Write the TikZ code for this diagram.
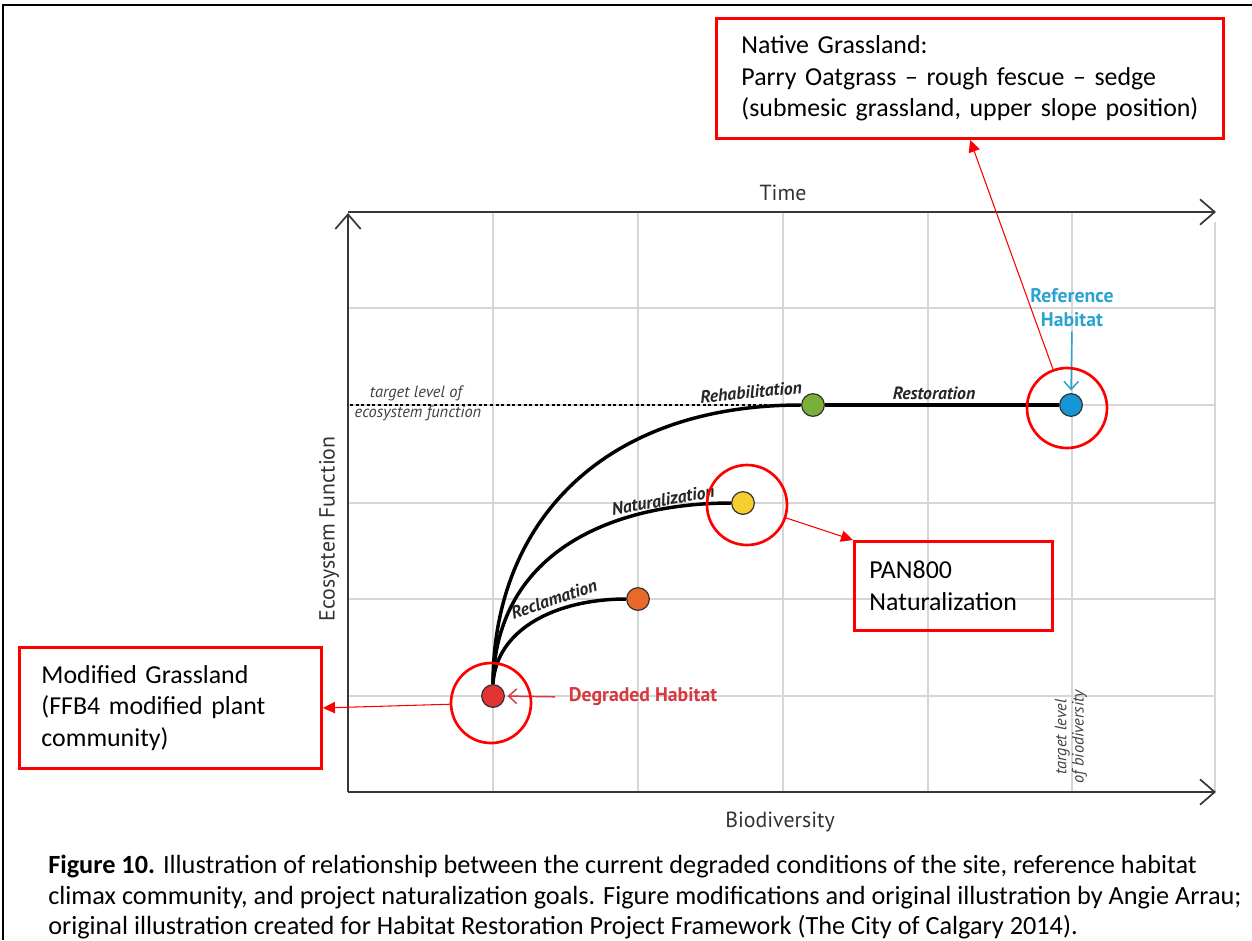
\documentclass[tikz,border=0pt]{standalone}
\usepackage{fontspec}
\setmainfont{Carlito}
\newfontfamily\chartfont{PT Sans}
\usetikzlibrary{arrows.meta}

\definecolor{boxred}{RGB}{255,0,0}
\definecolor{gridgray}{RGB}{214,214,214}
\definecolor{axisgray}{RGB}{55,55,55}
\definecolor{degred}{RGB}{214,57,63}
\definecolor{refblue}{RGB}{42,163,207}
\definecolor{dotred}{RGB}{226,50,50}
\definecolor{dotorange}{RGB}{232,105,44}
\definecolor{dotyellow}{RGB}{247,206,48}
\definecolor{dotgreen}{RGB}{122,176,58}
\definecolor{dotblue}{RGB}{22,150,214}

\begin{document}
\begin{tikzpicture}[x=0.75pt,y=0.75pt,yscale=-1,xscale=1,
  redbox/.style={draw=boxred,line width=2.2pt,anchor=north west,align=left,inner ysep=0pt,
    font=\fontsize{19.4}{23.7}\selectfont},
  ring/.style={draw=boxred,line width=2pt,circle,minimum size=60pt,inner sep=0pt},
  dot/.style={circle,draw=black!80,line width=0.9pt,minimum size=17pt,inner sep=0pt},
  callout/.style={draw=boxred,line width=0.8pt,-{Triangle[length=9pt,width=8.5pt]}},
  gridline/.style={draw=gridgray,line width=1.1pt},
  axisline/.style={draw=axisgray,line width=1.6pt,-{Straight Barb[length=11pt,width=19pt,line width=1.3pt]}},
  trend/.style={draw=black,line width=2.6pt},
  stage/.style={font=\chartfont\bfseries\itshape\fontsize{13.3}{15}\selectfont,text=black!85,inner sep=1pt},
  axislabel/.style={font=\chartfont\fontsize{16.4}{18}\selectfont,text=black!80,inner sep=0pt},
  target/.style={font=\chartfont\itshape\fontsize{12.3}{13}\selectfont,text=black!75,inner sep=0pt,align=center},
  habitat/.style={font=\chartfont\bfseries\fontsize{14.8}{18}\selectfont,inner sep=1pt,align=center}
]
\useasboundingbox (0,0) rectangle (1252,940);

% page frame
\draw [line width=1.6pt] (3,940) -- (3,5) -- (1252,5);

% grid
\draw [gridline] (493,212) -- (493,792);
\draw [gridline] (638,212) -- (638,792);
\draw [gridline] (783,212) -- (783,792);
\draw [gridline] (928,212) -- (928,792);
\draw [gridline] (1072,212) -- (1072,792);
\draw [gridline] (1215,222) -- (1215,792);
\draw [gridline] (348,308) -- (1215,308);
\draw [gridline] (348,405) -- (1215,405);
\draw [gridline] (348,503) -- (1215,503);
\draw [gridline] (348,599) -- (1215,599);
\draw [gridline] (348,696) -- (1215,696);

% axes
\draw [axisline] (348,792) -- (348,213);
\draw [axisline] (348,212) -- (1216,212);
\draw [axisline] (348,792) -- (1216,792);

% target level of ecosystem function
\draw [dash pattern=on 2.2pt off 2pt,line width=0.8pt] (350,405) -- (790,405);
\node [target] (tgtA) at (416,393) {target level of};
\node [target] (tgtB) at (418,413) {ecosystem function};
\node [target,rotate=90] (tgtBio) at (1071,737) {target level\\of biodiversity};

% axis labels
\node [axislabel] (time) at (783,193) {Time};
\node [axislabel] (bio) at (780,822) {Biodiversity};
\node [axislabel,rotate=90] (eco) at (329,529) {Ecosystem Function};

% habitat dots
\node [dot,fill=dotred] (degr) at (493,696) {};
\node [dot,fill=dotorange] (recl) at (638,599) {};
\node [dot,fill=dotyellow] (natu) at (743,503) {};
\node [dot,fill=dotgreen] (rehab) at (813,405) {};
\node [dot,fill=dotblue] (refer) at (1071,405) {};

% trajectories
\draw [trend] (degr.north) .. controls +(0,-160) and +(-200,0) .. (rehab.west);
\draw [trend] (degr.north) .. controls +(3,-135) and +(-115,0) .. (natu.west);
\draw [trend] (degr.north) .. controls +(3,-55) and +(-70,0) .. (recl.west);
\draw [trend] (rehab.east) -- (refer.west);

% trajectory labels
\node [stage,rotate=5.5] (lRehab) at (751,392) {Rehabilitation};
\node [stage,rotate=10] (lNatu) at (663,500) {Naturalization};
\node [stage,rotate=19] (lRecl) at (554,599) {Reclamation};
\node [stage] (lRest) at (934,393) {Restoration};

% habitat labels
\node [habitat,text=degred] (lDegr) at (643,697) {Degraded Habitat};
\draw [degred,line width=1.1pt,-{Straight Barb[length=6pt,width=11pt]},shorten <=9pt,shorten >=2pt] (lDegr.west) -- (degr.east);
\node [habitat,text=refblue] (lRef) at (1072,308) {Reference\\Habitat};
\draw [refblue,line width=1.1pt,-{Straight Barb[length=6pt,width=11pt]},shorten <=2pt,shorten >=2pt] (lRef.south) -- (refer.north);

% highlight rings
\node [ring] (ringDegr) at (491,703) {};
\node [ring] (ringNatu) at (747,505) {};
\node [ring] (ringRef) at (1067,408) {};

% call-out boxes
\node [redbox,text width=343pt,inner xsep=18.75pt,minimum height=90pt] (boxNative) at (715,17)
  {Native Grassland:\\Parry Oatgrass – rough fescue – sedge\\(submesic grassland, upper slope position)};
\node [redbox,text width=126pt,inner xsep=11.25pt,minimum height=66.75pt] (boxPan) at (853,540)
  {PAN800\\Naturalization};
\node [redbox,text width=193.5pt,inner xsep=16.5pt,minimum height=90.75pt] (boxMod) at (18,646)
  {Modified Grassland\\(FFB4 modified plant\\community)};

% call-out arrows
\draw [callout] (ringRef) -- (boxNative.south);
\draw [callout] (ringNatu) -- (boxPan.north west);
\draw [callout] (ringDegr) -- (boxMod.east);

% caption
\node [anchor=north west,align=left,inner sep=0pt,font=\fontsize{19.7}{22.8}\selectfont] (caption) at (48,855)
  {\textbf{Figure 10.} Illustration of relationship between the current degraded conditions of the site, reference habitat\\
   climax community, and project naturalization goals. Figure modifications and original illustration by Angie Arrau;\\
   original illustration created for Habitat Restoration Project Framework (The City of Calgary 2014).};

\end{tikzpicture}
\end{document}
